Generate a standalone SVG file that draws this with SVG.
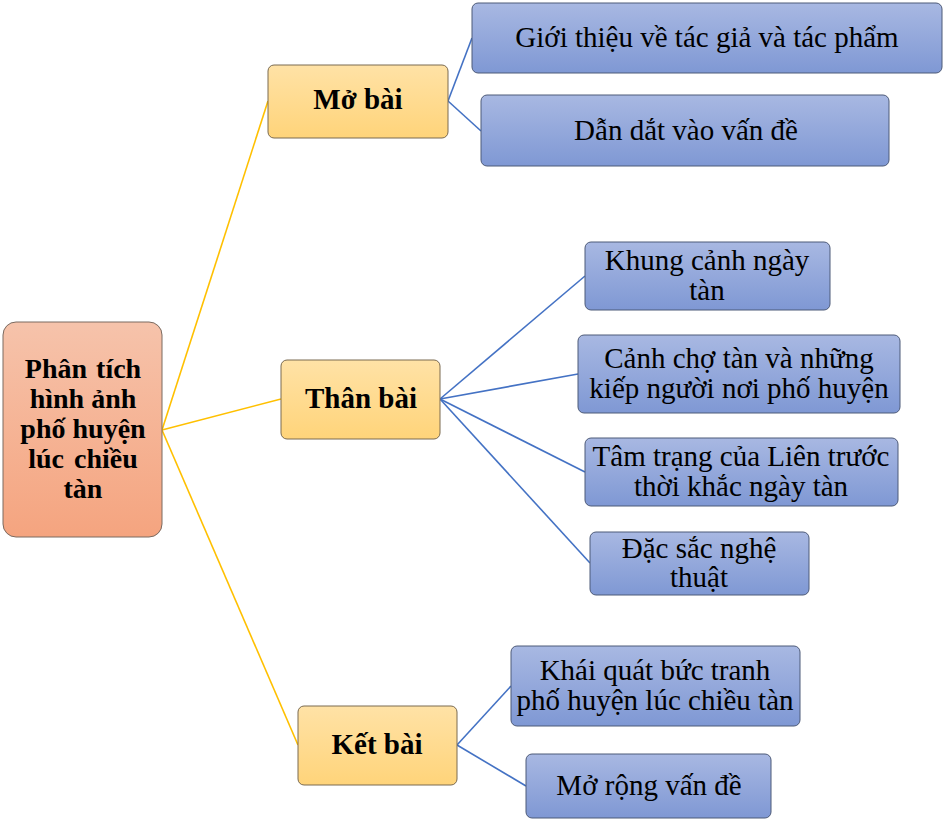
<svg xmlns="http://www.w3.org/2000/svg" width="946" height="822" viewBox="0 0 946 822">
<defs>
<linearGradient id="gRoot" x1="0" y1="0" x2="0" y2="1"><stop offset="0" stop-color="#F6C3AB"/><stop offset="1" stop-color="#F5A47F"/></linearGradient>
<linearGradient id="gY" x1="0" y1="0" x2="0" y2="1"><stop offset="0" stop-color="#FFE2A6"/><stop offset="1" stop-color="#FFD47A"/></linearGradient>
<linearGradient id="gB" x1="0" y1="0" x2="0" y2="1"><stop offset="0" stop-color="#A8B8E2"/><stop offset="1" stop-color="#7F98D4"/></linearGradient>
</defs>
<style>
.root{fill:url(#gRoot);stroke:#7a6a60;stroke-width:1}
.y{fill:url(#gY);stroke:#7a6a50;stroke-width:1}
.b{fill:url(#gB);stroke:#4d5a78;stroke-width:1}
.t{fill:#000;text-anchor:middle}
.tr{font-weight:bold;font-size:28px}
.tb{font-weight:bold;font-size:29px}
.tn{font-size:29px}
.cy{stroke:#FFC000;stroke-width:1.6;fill:none}
.cb{stroke:#4472C4;stroke-width:1.6;fill:none}
</style>
<rect width="946" height="822" fill="#fff"/>
<g id="connectors">
<line class="cy" x1="162" y1="430" x2="268" y2="101"/>
<line class="cy" x1="162" y1="430" x2="281" y2="399"/>
<line class="cy" x1="162" y1="430" x2="298" y2="745"/>
<line class="cb" x1="448" y1="101" x2="472" y2="38"/>
<line class="cb" x1="448" y1="101" x2="481" y2="131"/>
<line class="cb" x1="440" y1="399" x2="585" y2="276"/>
<line class="cb" x1="440" y1="399" x2="578" y2="374"/>
<line class="cb" x1="440" y1="399" x2="585" y2="472"/>
<line class="cb" x1="440" y1="399" x2="590" y2="563"/>
<line class="cb" x1="457" y1="745" x2="511" y2="686"/>
<line class="cb" x1="457" y1="745" x2="526" y2="786"/>
</g>
<g font-family="'Liberation Serif', 'Times New Roman', serif" class="t">
<g id="root">
<rect class="root" x="3" y="322" width="159" height="215" rx="13"/>
<text class="tr" x="83" y="378" word-spacing="2">Phân tích</text>
<text class="tr" x="83" y="408">hình ảnh</text>
<text class="tr" x="83" y="438">phố huyện</text>
<text class="tr" x="83" y="468" word-spacing="3">lúc chiều</text>
<text class="tr" x="83" y="498">tàn</text>
</g>
<g id="mobai">
<rect class="y" x="268" y="65" width="180" height="73" rx="6"/>
<text class="tb" x="358" y="109">Mở bài</text>
</g>
<g id="thanbai">
<rect class="y" x="281" y="360" width="159" height="79" rx="6"/>
<text class="tb" x="361" y="408">Thân bài</text>
</g>
<g id="ketbai">
<rect class="y" x="298" y="706" width="159" height="79" rx="6"/>
<text class="tb" x="377" y="754">Kết bài</text>
</g>
<g id="gioithieu">
<rect class="b" x="472" y="3" width="470" height="70" rx="6"/>
<text class="tn" x="707" y="47">Giới thiệu về tác giả và tác phẩm</text>
</g>
<g id="dandat">
<rect class="b" x="481" y="95" width="408" height="71" rx="6"/>
<text class="tn" x="686" y="140">Dẫn dắt vào vấn đề</text>
</g>
<g id="khungcanh">
<rect class="b" x="585" y="242" width="245" height="68" rx="6"/>
<text class="tn" x="707" y="270">Khung cảnh ngày</text>
<text class="tn" x="707" y="300">tàn</text>
</g>
<g id="canhcho">
<rect class="b" x="578" y="335" width="322" height="78" rx="6"/>
<text class="tn" x="739" y="368">Cảnh chợ tàn và những</text>
<text class="tn" x="739" y="398">kiếp người nơi phố huyện</text>
</g>
<g id="tamtrang">
<rect class="b" x="585" y="438" width="313" height="68" rx="6"/>
<text class="tn" x="741" y="466">Tâm trạng của Liên trước</text>
<text class="tn" x="741" y="496">thời khắc ngày tàn</text>
</g>
<g id="dacsac">
<rect class="b" x="590" y="532" width="219" height="63" rx="6"/>
<text class="tn" x="699" y="558">Đặc sắc nghệ</text>
<text class="tn" x="699" y="587">thuật</text>
</g>
<g id="khaiquat">
<rect class="b" x="511" y="646" width="289" height="80" rx="6"/>
<text class="tn" x="655" y="680">Khái quát bức tranh</text>
<text class="tn" x="655" y="710">phố huyện lúc chiều tàn</text>
</g>
<g id="morong">
<rect class="b" x="526" y="754" width="245" height="64" rx="6"/>
<text class="tn" x="649" y="795">Mở rộng vấn đề</text>
</g>
</g>
</svg>
